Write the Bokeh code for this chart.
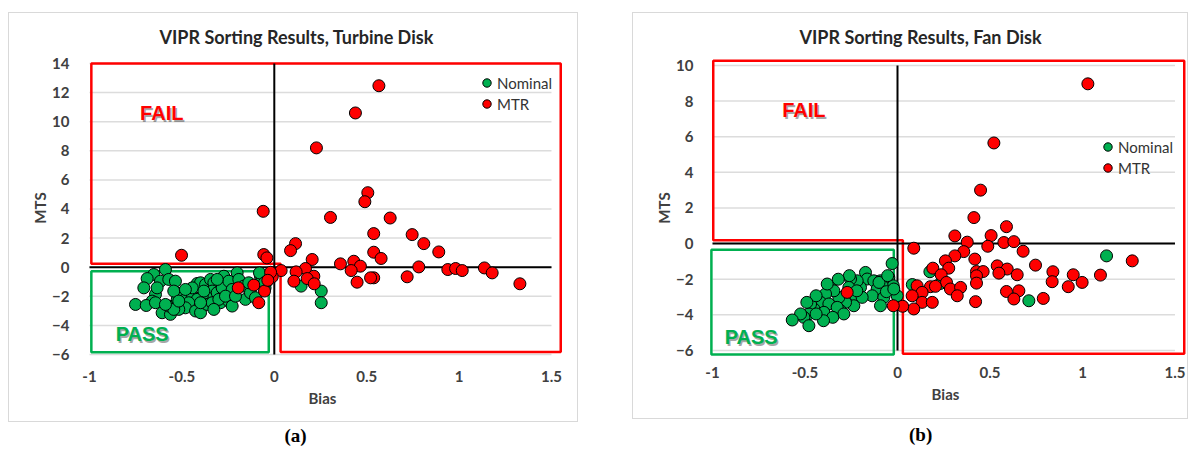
from bokeh.plotting import figure
from bokeh.models import Range1d, FixedTicker, Legend, LegendItem, Spacer
from bokeh.layouts import row, column
from bokeh.embed import file_html
from bokeh.resources import INLINE
from bokeh.core.properties import value

# ---------------- data ----------------
title_a = "VIPR Sorting Results, Turbine Disk"
title_b = "VIPR Sorting Results, Fan Disk"
series_names = ["Nominal", "MTR"]
x_ticks = [-1, -0.5, 0, 0.5, 1, 1.5]
x_tick_labels = ["-1", "-0.5", "0", "0.5", "1", "1.5"]
y_ticks_a = [-6, -4, -2, 0, 2, 4, 6, 8, 10, 12, 14]
y_ticks_b = [-6, -4, -2, 0, 2, 4, 6, 8, 10]

nominal_a_bias = [-0.589, -0.652, -0.688, -0.616, -0.571, -0.535, -0.706, -0.643, -0.661, -0.751,
                  -0.693, -0.643, -0.607, -0.562, -0.571, -0.525, -0.498, -0.481, -0.444, -0.417,
                  -0.399, -0.372, -0.345, -0.327, -0.336, -0.363, -0.390, -0.417, -0.463, -0.481,
                  -0.517, -0.426, -0.399, -0.363, -0.336, -0.309, -0.282, -0.273, -0.246, -0.228,
                  -0.201, -0.192, -0.165, -0.156, -0.129, -0.102, -0.138, -0.075, -0.066, -0.291,
                  -0.246, -0.544, -0.544, -0.589, -0.444, -0.481, -0.381, -0.399, -0.309, -0.300,
                  -0.264, -0.327, -0.228, -0.634, -0.517, -0.210, -0.080, -0.040, -0.050, -0.053,
                  0.145, 0.254, 0.254]
nominal_a_mts = [-0.16, -0.50, -0.78, -0.96, -0.84, -0.96, -1.42, -1.87, -2.33, -2.56,
                 -2.63, -2.44, -3.13, -3.24, -2.67, -2.21, -1.76, -2.21, -1.99, -1.12,
                 -1.07, -1.19, -0.84, -1.07, -1.64, -2.10, -1.99, -2.21, -2.44, -2.79,
                 -2.90, -3.01, -3.13, -2.56, -2.44, -1.76, -1.42, -0.62, -0.96, -1.53,
                 -0.39, -0.84, -1.30, -2.21, -1.76, -2.10, -1.07, -0.62, -0.84, -2.44,
                 -2.33, -1.64, -2.90, -2.56, -1.42, -1.53, -1.64, -2.44, -0.84, -2.21,
                 -1.99, -2.90, -2.67, -1.42, -2.33, -1.99, -0.39, -0.96, -1.42, -1.07,
                 -1.30, -1.64, -2.44]

mtr_a_bias = [0.566, 0.439, 0.228, 0.506, 0.490, -0.060, 0.304, 0.627, 0.538, 0.746,
              0.809, 0.890, 0.115, 0.088, 0.538, 0.578, 0.205, 0.358, 0.430, 0.466,
              0.416, 0.782, 0.939, 0.981, 1.017, 1.137, 1.179, 1.329, 0.719, 0.538,
              0.521, 0.448, 0.169, 0.118, 0.037, 0.214, 0.106, 0.178, 0.216, -0.502,
              -0.057, -0.040, -0.011, -0.195, -0.111, -0.053, -0.084, -0.020, -0.035]
mtr_a_mts = [12.47, 10.60, 8.20, 5.12, 4.50, 3.84, 3.42, 3.38, 2.31, 2.24,
             1.62, 1.05, 1.62, 1.14, 1.03, 0.60, 0.53, 0.23, 0.41, 0.07,
             -0.23, 0.02, -0.16, -0.09, -0.23, -0.05, -0.39, -1.14, -0.66, -0.73,
             -0.73, -1.03, -0.09, -0.32, -0.23, -0.62, -0.96, -0.78, -1.14, 0.82,
             0.87, 0.64, -0.66, -1.42, -1.23, -1.64, -2.44, -0.35, -0.90]

nominal_b_bias = [-0.029, -0.047, -0.023, -0.002, -0.173, -0.164, -0.128, -0.092, -0.083, -0.110,
                  -0.137, -0.074, -0.092, -0.200, -0.218, -0.254, -0.227, -0.191, -0.236, -0.281,
                  -0.308, -0.317, -0.362, -0.344, -0.389, -0.416, -0.371, -0.326, -0.290, -0.398,
                  -0.452, -0.470, -0.479, -0.506, -0.479, -0.524, -0.569, -0.263, -0.380, -0.440,
                  -0.260, -0.100, -0.060, -0.220, -0.350, -0.400, -0.490, -0.053, -0.020, -0.320,
                  -0.440, 0.175, 0.232, 0.080, 0.710, 1.130]
nominal_b_mts = [-1.12, -1.90, -2.37, -2.93, -1.62, -1.99, -2.09, -2.09, -2.37, -2.55,
                 -2.93, -3.02, -3.49, -2.46, -2.09, -1.99, -2.93, -3.02, -3.49, -3.30,
                 -3.77, -3.02, -2.46, -2.65, -2.83, -3.30, -3.39, -3.58, -3.95, -3.86,
                 -3.67, -3.39, -3.95, -4.14, -4.61, -3.95, -4.29, -2.46, -2.27, -2.93,
                 -1.80, -2.18, -2.70, -2.65, -4.14, -4.33, -3.30, -1.80, -2.55, -2.00,
                 -3.95, -1.58, -2.24, -2.30, -3.21, -0.69]

mtr_b_bias = [1.029, 0.521, 0.449, 0.413, 0.589, 0.310, 0.506, 0.377, 0.575, 0.629,
              0.488, 0.679, 0.088, 0.358, 0.310, 0.259, 0.418, 0.746, 1.269, 0.191,
              0.277, 0.539, 0.593, 0.427, 0.463, 0.548, 0.647, 0.427, 0.840, 0.836,
              0.950, 1.097, 0.998, 0.923, 0.236, 0.427, 0.265, 0.106, 0.178, 0.205,
              0.286, 0.341, 0.133, 0.079, 0.323, 0.589, 0.656, 0.629, 0.788, 0.133,
              0.188, 0.422, 0.088, 0.028, -0.023, -0.272]
mtr_b_mts = [8.97, 5.65, 3.00, 1.46, 0.95, 0.43, 0.45, 0.08, 0.06, 0.11,
             -0.15, -0.43, -0.26, -0.45, -0.69, -0.97, -0.87, -1.21, -0.97, -1.38,
             -1.38, -1.25, -1.43, -1.57, -1.57, -1.66, -1.75, -1.81, -1.58, -2.14,
             -1.75, -1.77, -2.18, -2.42, -1.75, -2.22, -2.18, -2.37, -2.42, -2.40,
             -2.55, -2.46, -2.74, -2.93, -2.93, -2.69, -2.65, -3.11, -3.08, -3.30,
             -3.30, -3.26, -3.67, -3.52, -3.49, -2.74]

# decision regions (data units)
fail_a_x = [-0.99, 1.55, 1.55, 0.034, 0.034, -0.99]
fail_a_y = [14.0, 14.0, -5.82, -5.82, 0.24, 0.24]
pass_a_x = [-0.99, -0.03, -0.03, -0.99]
pass_a_y = [-0.28, -0.28, -5.85, -5.85]
fail_b_x = [-0.996, 1.55, 1.55, 0.029, 0.029, -0.996]
fail_b_y = [10.26, 10.26, -6.19, -6.19, 0.19, 0.19]
pass_b_x = [-1.006, -0.02, -0.02, -1.006]
pass_b_y = [-0.35, -0.35, -6.23, -6.23]

GREEN = "#00b050"
RED = "#ff0000"
FONT = "Lato"
TXT = "#404040"


def make_chart(title, y_ticks, xr, yr, nb, nm, mb, mm, fx, fy, px, py,
               fail_pos, pass_pos, legend_loc, size, borders, title_offset, xstand):
    w, h = size
    p = figure(width=w, height=h, x_range=Range1d(*xr), y_range=Range1d(*yr),
               toolbar_location=None, output_backend="svg",
               min_border_left=borders[0], min_border_right=borders[1],
               min_border_top=borders[2], min_border_bottom=borders[3])
    p.styles = {"border": "1px solid #d9d9d9"}
    p.outline_line_color = None
    p.grid.visible = False
    p.background_fill_color = "white"
    p.border_fill_color = "white"

    p.title.text = title
    p.title.align = "left"
    p.title.offset = title_offset
    p.title.text_font = FONT
    p.title.text_font_size = "18px"
    p.title.text_font_style = "bold"
    p.title.text_color = "#262626"
    p.title.standoff = 20

    for ax in (p.xaxis[0], p.yaxis[0]):
        ax.axis_line_color = None
        ax.major_tick_line_color = None
        ax.minor_tick_line_color = None
        ax.major_label_text_font = FONT
        ax.major_label_text_font_size = "15px"
        ax.major_label_text_font_style = "bold"
        ax.major_label_text_color = TXT
        ax.axis_label_text_font = FONT
        ax.axis_label_text_font_size = "15px"
        ax.axis_label_text_font_style = "bold"
        ax.axis_label_text_color = TXT
    p.xaxis.ticker = FixedTicker(ticks=x_ticks)
    p.xaxis.major_label_overrides = {t: l for t, l in zip(x_ticks, x_tick_labels)}
    p.yaxis.ticker = FixedTicker(ticks=y_ticks)
    p.xaxis.axis_label = "Bias"
    p.yaxis.axis_label = "MTS"
    p.xaxis.major_label_standoff = xstand
    p.xaxis.axis_label_standoff = 4
    p.yaxis.major_label_standoff = 3
    p.yaxis.axis_label_standoff = 0

    # gridlines over the axis extent
    x0, x1 = min(x_ticks), max(x_ticks)
    p.segment(x0=[x0] * len(y_ticks), x1=[x1] * len(y_ticks), y0=y_ticks, y1=y_ticks,
              line_color="#dcdcdc", line_width=1.5)

    # decision regions
    p.patch(fx + [fx[0]], fy + [fy[0]], fill_color=None, line_color=RED, line_width=2.5)
    p.patch(px + [px[0]], py + [py[0]], fill_color=None, line_color=GREEN, line_width=2.5)

    # axes crossing at zero
    p.segment(x0=[0], x1=[0], y0=[min(y_ticks)], y1=[max(y_ticks)], line_color="black", line_width=2)
    p.segment(x0=[x0], x1=[x1], y0=[0], y1=[0], line_color="black", line_width=2)

    # region labels with shadow
    for txt, pos, col in (("FAIL", fail_pos, RED), ("PASS", pass_pos, GREEN)):
        p.text(x=[pos[0]], y=[pos[1]], text=[txt], text_color="#000000", text_alpha=0.35,
               x_offset=1.5, y_offset=1.5,
               text_font=value("Liberation Sans"), text_font_style="bold", text_font_size="20px",
               text_align="center", text_baseline="middle")
        p.text(x=[pos[0]], y=[pos[1]], text=[txt], text_color=col,
               text_font=value("Liberation Sans"), text_font_style="bold", text_font_size="20px",
               text_align="center", text_baseline="middle")

    r_nom = p.scatter(nb, nm, size=12, fill_color=GREEN, line_color="black", line_width=1)
    r_mtr = p.scatter(mb, mm, size=12, fill_color=RED, line_color="black", line_width=1)

    legend = Legend(items=[LegendItem(label=series_names[0], renderers=[r_nom]),
                           LegendItem(label=series_names[1], renderers=[r_mtr])],
                    location=legend_loc, padding=0, margin=0, spacing=0,
                    glyph_width=21, glyph_height=21, label_standoff=0,
                    border_line_color=None, background_fill_alpha=0,
                    label_text_font=FONT, label_text_font_size="15px",
                    label_text_color="#333333")
    p.add_layout(legend)
    return p


def make_caption(text, w, h, xfrac):
    c = figure(width=w, height=h, x_range=Range1d(0, 1), y_range=Range1d(0, 1),
               toolbar_location=None, output_backend="svg",
               min_border=0, min_border_left=0, min_border_right=0,
               min_border_top=0, min_border_bottom=0,
               x_axis_location=None, y_axis_location=None)
    c.grid.visible = False
    c.outline_line_color = None
    c.text(x=[xfrac], y=[0.5], text=[text], text_font=value("Liberation Serif"),
           text_font_style="bold", text_font_size="19px", text_color="black",
           text_align="center", text_baseline="middle")
    return c


pa = make_chart(title_a, y_ticks_a, (-1.0595, 1.5812), (-6.274, 14.411),
                nominal_a_bias, nominal_a_mts, mtr_a_bias, mtr_a_mts,
                fail_a_x, fail_a_y, pass_a_x, pass_a_y,
                (-0.609, 10.57), (-0.715, -4.61), (398, 244),
                (570, 410), (69, 13, 43, 65), 81, 6)
pb = make_chart(title_b, y_ticks_b, (-1.0541, 1.5730), (-6.452, 10.448),
                nominal_b_bias, nominal_b_mts, mtr_b_bias, mtr_b_mts,
                fail_b_x, fail_b_y, pass_b_x, pass_b_y,
                (-0.506, 7.48), (-0.791, -5.26), (395, 180),
                (556, 407), (69, 1, 43, 62), 97, 2)

# caption frames are aligned with the chart frames by the column layout
cap_a = make_caption("(a)", 572, 26, 0.445)
cap_b = make_caption("(b)", 558, 29, 0.449)

layout = row(Spacer(width=8),
             column(Spacer(height=12), pa, cap_a),
             Spacer(width=52),
             column(Spacer(height=12), pb, cap_b))

open("out.html", "w").write(file_html(layout, INLINE))
